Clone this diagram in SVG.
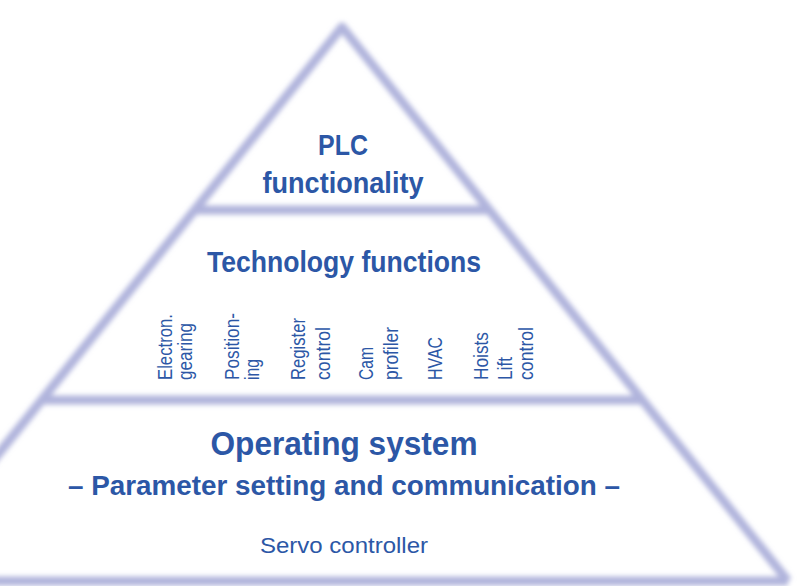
<svg xmlns="http://www.w3.org/2000/svg" width="797" height="586" viewBox="0 0 797 586">
<defs>
<style>
.edge{fill:none;stroke:#b0b4dc;stroke-width:9;stroke-linejoin:round;stroke-linecap:butt}
.t{font-family:"Liberation Sans",Arial,sans-serif;fill:#2c57a6}
.b{font-weight:bold;text-anchor:middle}
.v{font-size:21px}
</style>
<filter id="blur" x="-10%" y="-10%" width="120%" height="120%">
<feGaussianBlur stdDeviation="2.4"/>
</filter>
</defs>
<rect width="797" height="586" fill="#ffffff"/>
<g id="connectors" filter="url(#blur)">
<polyline class="edge" points="-104,581 342,27 788,581"/>
<line class="edge" x1="-104" y1="581" x2="788" y2="581"/>
<line class="edge" x1="195" y1="210" x2="489" y2="210"/>
<line class="edge" x1="42" y1="400" x2="642" y2="400"/>
</g>
<g id="plc">
<text class="t b" x="343" y="155" font-size="30" textLength="50" lengthAdjust="spacingAndGlyphs">PLC</text>
<text class="t b" x="343" y="193" font-size="30" textLength="161" lengthAdjust="spacingAndGlyphs">functionality</text>
</g>
<g id="technology">
<text class="t b" x="344" y="272" font-size="30" textLength="274" lengthAdjust="spacingAndGlyphs">Technology functions</text>
<g id="tech-items" class="t v">
<text transform="translate(172,380) rotate(-90)" textLength="66" lengthAdjust="spacingAndGlyphs">Electron.</text>
<text transform="translate(192,380) rotate(-90)" textLength="57" lengthAdjust="spacingAndGlyphs">gearing</text>
<text transform="translate(239,380) rotate(-90)" textLength="67" lengthAdjust="spacingAndGlyphs">Position-</text>
<text transform="translate(259,380) rotate(-90)" textLength="21" lengthAdjust="spacingAndGlyphs">ing</text>
<text transform="translate(305,380) rotate(-90)" textLength="62" lengthAdjust="spacingAndGlyphs">Register</text>
<text transform="translate(330,380) rotate(-90)" textLength="53" lengthAdjust="spacingAndGlyphs">control</text>
<text transform="translate(373,380) rotate(-90)" textLength="33" lengthAdjust="spacingAndGlyphs">Cam</text>
<text transform="translate(398,380) rotate(-90)" textLength="53" lengthAdjust="spacingAndGlyphs">profiler</text>
<text transform="translate(442,380) rotate(-90)" textLength="43" lengthAdjust="spacingAndGlyphs">HVAC</text>
<text transform="translate(488,380) rotate(-90)" textLength="48" lengthAdjust="spacingAndGlyphs">Hoists</text>
<text transform="translate(512,380) rotate(-90)" textLength="23" lengthAdjust="spacingAndGlyphs">Lift</text>
<text transform="translate(533,380) rotate(-90)" textLength="53" lengthAdjust="spacingAndGlyphs">control</text>
</g>
</g>
<g id="operating-system">
<text class="t b" x="344" y="455" font-size="34" textLength="267" lengthAdjust="spacingAndGlyphs">Operating system</text>
<text class="t b" x="344" y="495" font-size="28" textLength="552" lengthAdjust="spacingAndGlyphs">– Parameter setting and communication –</text>
</g>
<g id="servo">
<text class="t" x="344" y="553" font-size="22" text-anchor="middle" textLength="168" lengthAdjust="spacingAndGlyphs">Servo controller</text>
</g>
</svg>
